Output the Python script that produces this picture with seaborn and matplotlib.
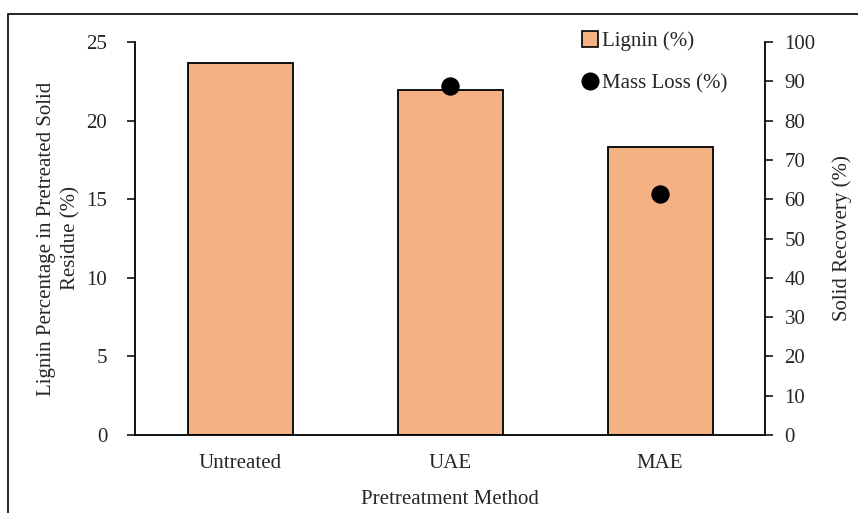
import matplotlib
matplotlib.use("Agg")
import matplotlib.pyplot as plt
from matplotlib.lines import Line2D
from matplotlib.patches import Rectangle
import seaborn as sns
import pandas as pd

# data
methods = ["Untreated", "UAE", "MAE"]
lignin = [23.65, 21.95, 18.3]
mass_loss_methods = ["UAE", "MAE"]
mass_loss = [88.7, 61.2]

sns.set_style("white")
plt.rcParams["font.family"] = ["Liberation Serif", "DejaVu Serif"]
plt.rcParams["font.size"] = 15

df = pd.DataFrame({"method": methods, "lignin": lignin})
df_ml = pd.DataFrame({"method": mass_loss_methods, "mass_loss": mass_loss})

fig = plt.figure(figsize=(8.58, 5.13), dpi=100)
fig.patches.append(Rectangle((8 / 858, -0.1), 1.2, (513 - 14) / 513 + 0.1,
                             transform=fig.transFigure, fill=False,
                             edgecolor="black", linewidth=1.2))
ax = fig.add_axes([135 / 858, 78 / 513, 630 / 858, 393 / 513])

sns.barplot(data=df, x="method", y="lignin", order=methods, color="#f4b183",
            saturation=1, width=0.5, edgecolor="black", linewidth=1.3, ax=ax)
ax.set_ylim(0, 25)
ax.set_xlim(-0.5, 2.5)
ax.set_yticks(range(0, 26, 5))
ax.set_xticks([-0.5, 0.5, 1.5, 2.5], minor=False)
ax.set_xticklabels([])
ax.set_xticks([0, 1, 2], minor=True)
ax.set_xticklabels(methods, minor=True)
ax.tick_params(axis="x", which="major", direction="out", length=6, width=1.3)
ax.tick_params(axis="x", which="minor", length=0, pad=14, labelsize=15)
ax.tick_params(axis="y", direction="out", length=6, width=1.3, pad=14, labelsize=15)
ax.set_xlabel("Pretreatment Method", labelpad=12, fontsize=15)
ax.set_ylabel("Lignin Percentage in Pretreated Solid\nResidue (%)", fontsize=15,
              labelpad=4, linespacing=1.4)
for s in ["left", "bottom"]:
    ax.spines[s].set_linewidth(1.3)
    ax.spines[s].set_color("black")
ax.spines["top"].set_visible(False)
ax.spines["right"].set_visible(False)

ax2 = ax.twinx()
sns.scatterplot(data=df_ml, x="method", y="mass_loss", color="black", s=150,
                edgecolor="black", ax=ax2, zorder=5)
ax2.set_xlim(-0.5, 2.5)
ax2.set_ylim(0, 100)
ax2.set_yticks(range(0, 101, 10))
ax2.tick_params(axis="y", direction="out", length=6, width=1.3, pad=8, labelsize=15)
ax2.set_ylabel("Solid Recovery (%)", fontsize=15, labelpad=12)
ax2.spines["right"].set_linewidth(1.3)
ax2.spines["right"].set_color("black")
for s in ["top", "left", "bottom"]:
    ax2.spines[s].set_visible(False)

handles = [
    Line2D([], [], marker="s", linestyle="none", markersize=11,
           markerfacecolor="#f4b183", markeredgecolor="black", markeredgewidth=1.2),
    Line2D([], [], marker="o", linestyle="none", markersize=12,
           markerfacecolor="black", markeredgecolor="black"),
]
ax2.legend(handles, ["Lignin (%)", "Mass Loss (%)"], loc="upper left",
           bbox_to_anchor=(0.672, 1.075), frameon=False, fontsize=15,
           handletextpad=0.0, labelspacing=1.1, handlelength=1.2)

fig.savefig("out.png", dpi=100)
